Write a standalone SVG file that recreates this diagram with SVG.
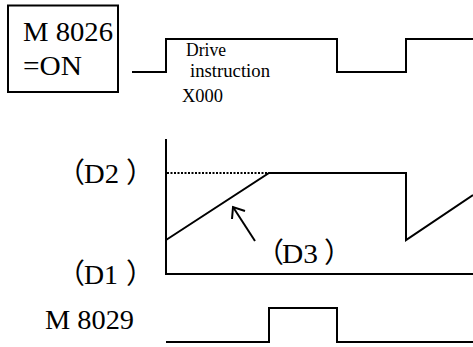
<svg xmlns="http://www.w3.org/2000/svg" width="473" height="347" viewBox="0 0 473 347">
<style>
.ln{fill:none;stroke:#000;stroke-width:2;stroke-linejoin:miter}
.dot{fill:none;stroke:#000;stroke-width:2;stroke-dasharray:2 1.5}
.big{font-family:'Liberation Serif','Noto Sans CJK SC',serif;font-size:28px;fill:#000}
.sm{font-family:'Liberation Serif',serif;font-size:18px;fill:#000}
</style>
<g id="m8026-box">
<rect x="8" y="5.5" width="110" height="86.5" class="ln"/>
<text class="big" x="23" y="41" textLength="90" lengthAdjust="spacingAndGlyphs">M 8026</text>
<text class="big" x="23" y="75" textLength="59" lengthAdjust="spacingAndGlyphs">=ON</text>
</g>
<g id="drive-label">
<text class="sm" x="186" y="56" textLength="40" lengthAdjust="spacingAndGlyphs">Drive</text>
<text class="sm" x="190" y="77" textLength="80" lengthAdjust="spacingAndGlyphs">instruction</text>
<text class="sm" x="182" y="102" textLength="41" lengthAdjust="spacingAndGlyphs">X000</text>
</g>
<g id="d2-label"><text class="big" y="183"><tspan x="57">（</tspan><tspan x="84" textLength="35" lengthAdjust="spacingAndGlyphs">D2</tspan><tspan> </tspan><tspan x="126">）</tspan></text></g>
<g id="d1-label"><text class="big" y="284"><tspan x="57">（</tspan><tspan x="84" textLength="34" lengthAdjust="spacingAndGlyphs">D1</tspan><tspan> </tspan><tspan x="126">）</tspan></text></g>
<g id="d3-label"><text class="big" y="263"><tspan x="256">（</tspan><tspan x="282" textLength="36" lengthAdjust="spacingAndGlyphs">D3</tspan><tspan> </tspan><tspan x="324">）</tspan></text></g>
<g id="m8029-label"><text class="big" x="45" y="329" textLength="89" lengthAdjust="spacingAndGlyphs">M 8029</text></g>
<g id="connectors">
<polyline class="ln" points="132,72 166,72 166,39 337,39 337,72 406,72 406,39 473,39"/>
<polyline class="ln" points="166,139 166,274 473,274"/>
<line class="dot" x1="167" y1="173" x2="269" y2="173"/>
<polyline class="ln" points="166,240 269,173 406,173 406,240 473,195"/>
<line class="ln" x1="255" y1="241" x2="233" y2="207"/>
<polyline class="ln" points="232,219 233,207 245,211"/>
<polyline class="ln" points="166,342 269,342 269,308 337,308 337,342 473,342"/>
</g>
</svg>
